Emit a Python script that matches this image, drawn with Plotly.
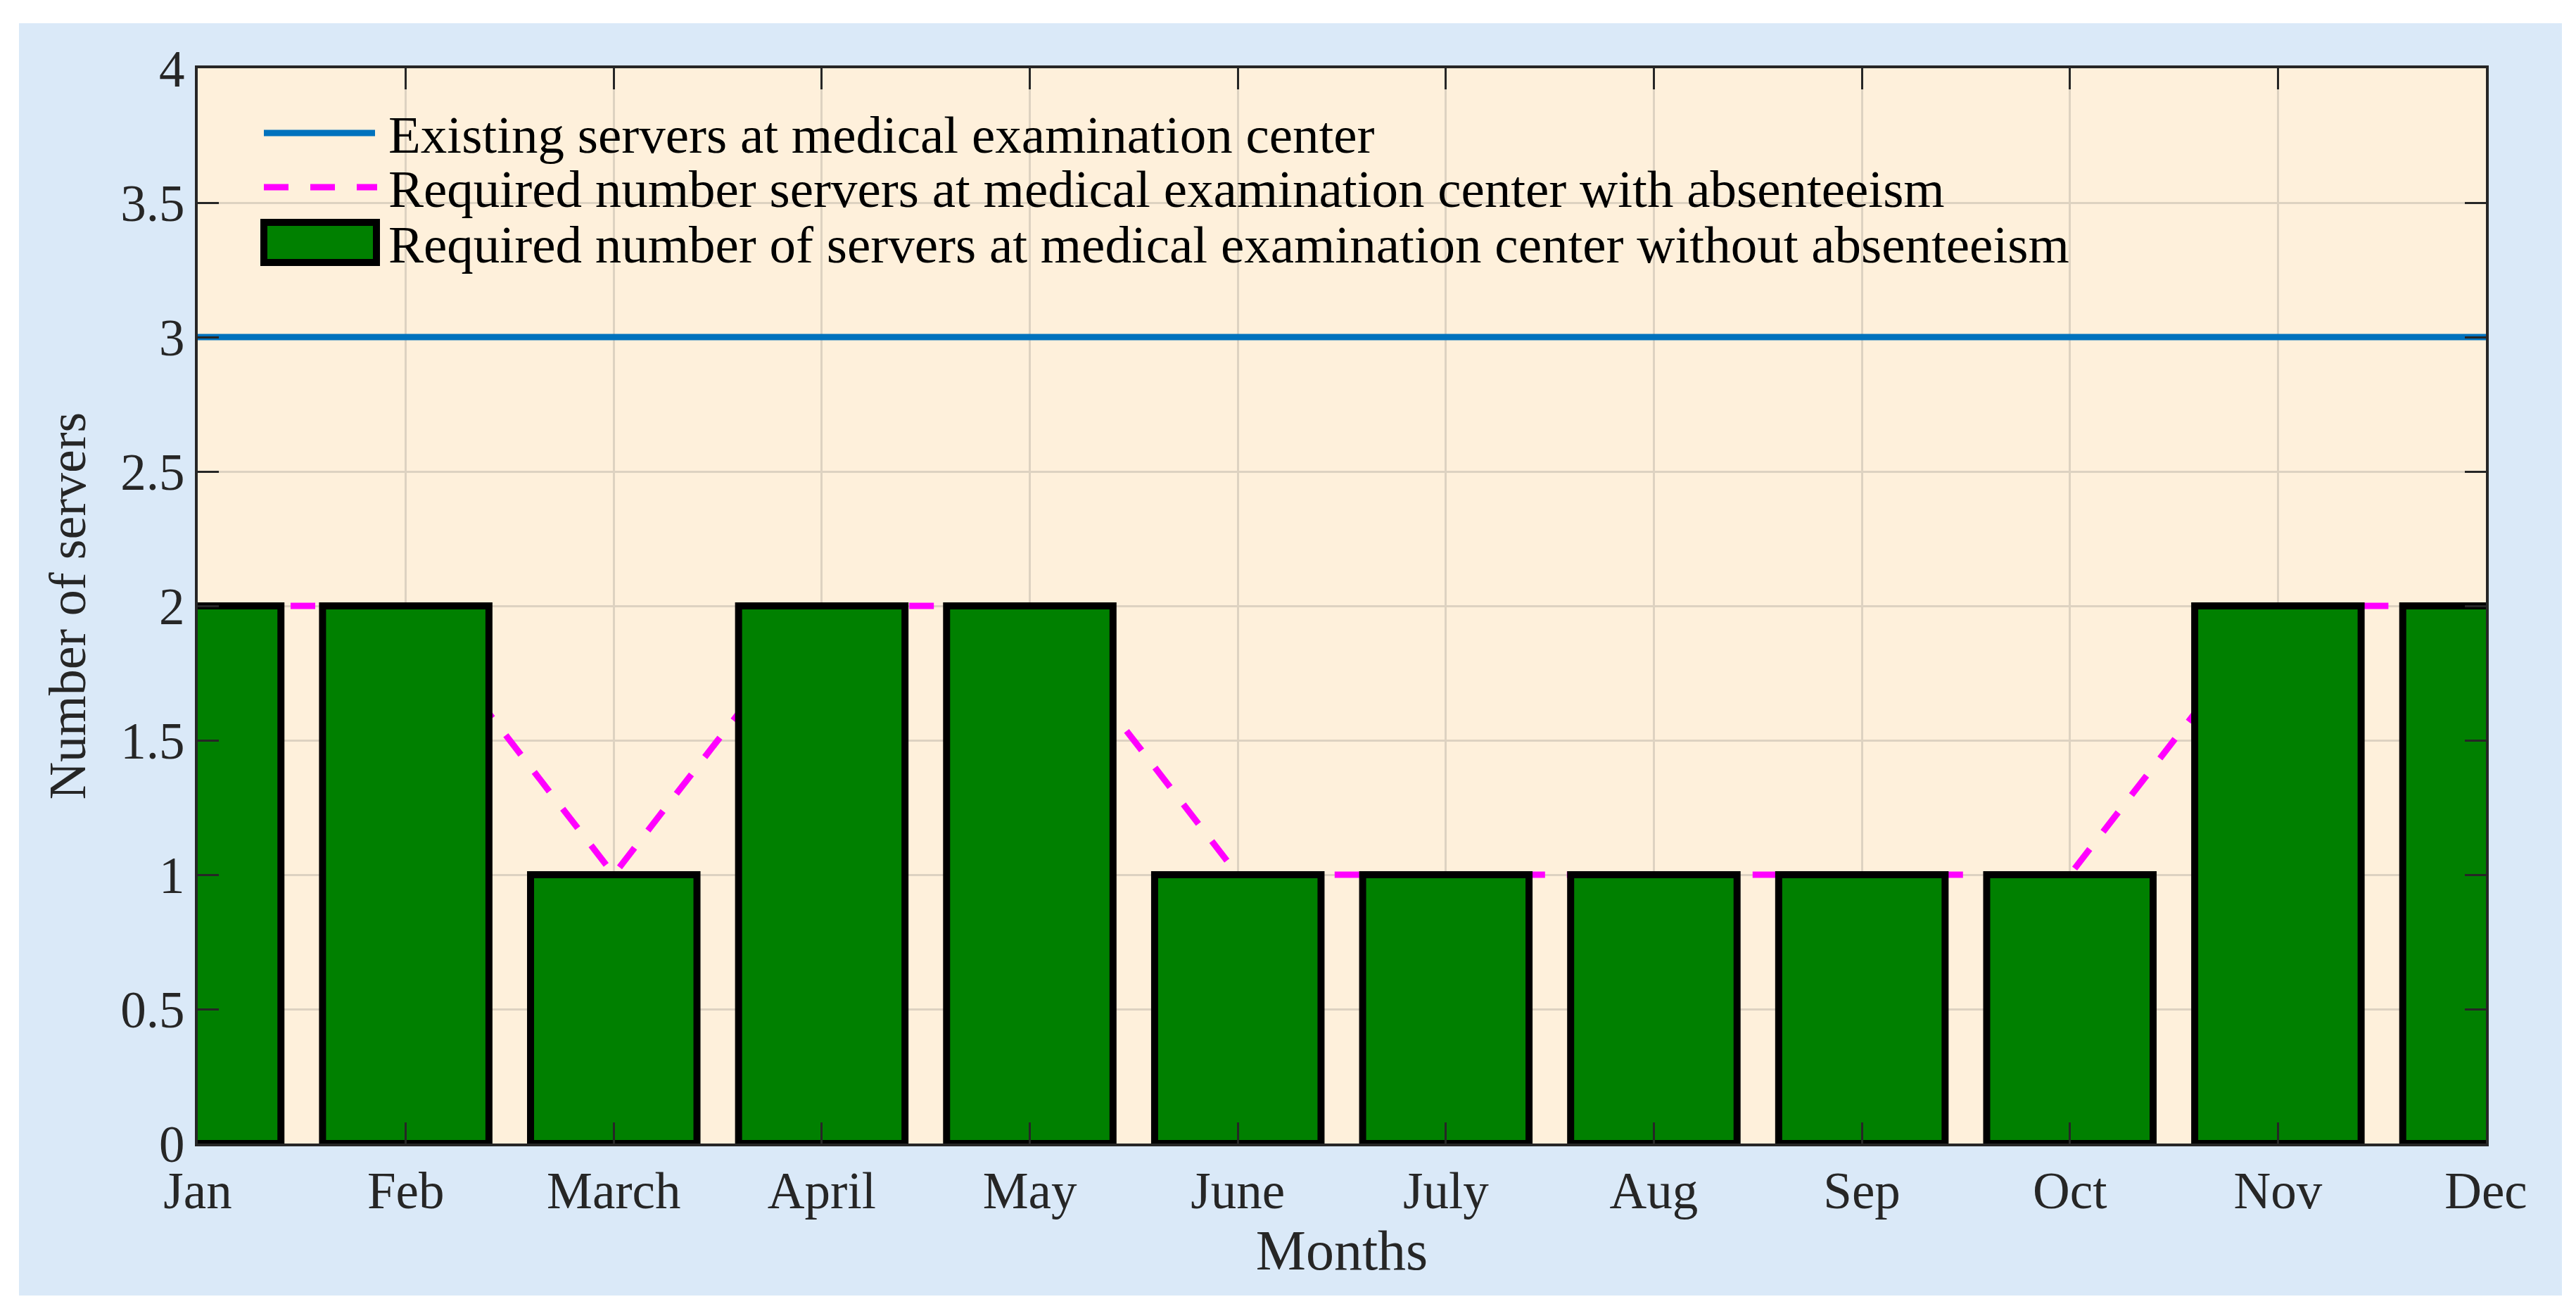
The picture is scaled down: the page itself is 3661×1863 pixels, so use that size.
import plotly.graph_objects as go

months = ["Jan", "Feb", "March", "April", "May", "June", "July", "Aug", "Sep", "Oct", "Nov", "Dec"]
month_pos = [1, 2, 3, 4, 5, 6, 7, 8, 9, 10, 11, 12]
existing_servers = [3, 3, 3, 3, 3, 3, 3, 3, 3, 3, 3, 3]
required_with_absenteeism = [2, 2, 1, 2, 2, 1, 1, 1, 1, 1, 2, 2]
required_without_absenteeism = [2, 2, 1, 2, 2, 1, 1, 1, 1, 1, 2, 2]
y_ticks = [0, 0.5, 1, 1.5, 2, 2.5, 3, 3.5, 4]
legend_labels = [
    "Existing servers at medical examination center",
    "Required number servers at medical examination center with absenteeism",
    "Required number of servers at medical examination center without absenteeism",
]

W, H = 3661, 1863
L, R, T, B = 273, 136, 89, 246
pw = W - L - R
ph = H - T - B


def px_x(p):
    return (p - L) / pw


def px_y(p):
    return (H - B - p) / ph


FONT = "Liberation Serif, Times New Roman, serif"
TXT = "#262626"
GRID = "rgb(221,210,193)"
CREAM = "rgb(254,240,219)"
PANEL = "rgb(218,233,248)"
BLUE = "#0072BD"
MAGENTA = "#FF00FF"
GREEN = "#008000"

fig = go.Figure()

fig.add_trace(go.Scatter(
    x=month_pos, y=existing_servers, mode="lines",
    name=legend_labels[0], showlegend=False,
    line=dict(color=BLUE, width=9),
    xaxis="x", yaxis="y",
))
fig.add_trace(go.Scatter(
    x=month_pos, y=required_with_absenteeism, mode="lines",
    name=legend_labels[1], showlegend=False,
    line=dict(color=MAGENTA, width=9, dash="35px,31px"),
    xaxis="x", yaxis="y",
))
fig.add_trace(go.Bar(
    x=month_pos, y=required_without_absenteeism, width=0.8,
    name=legend_labels[2], showlegend=False,
    marker=dict(color=GREEN, line=dict(color="black", width=10)),
    xaxis="x2", yaxis="y2",
))

# legend (drawn inside the axes, like the reference)
leg_rows_y = [181, 258, 337]
sym_x0, sym_x1 = 367, 525
text_x = 542
shapes = [
    dict(type="rect", xref="paper", yref="paper",
         x0=px_x(19), x1=px_x(3633), y0=px_y(1833), y1=px_y(25),
         fillcolor=PANEL, line=dict(width=0), layer="below"),
    dict(type="rect", xref="paper", yref="paper",
         x0=0, x1=1, y0=0, y1=1,
         fillcolor=CREAM, line=dict(width=0), layer="below"),
    dict(type="rect", xref="paper", yref="paper",
         x0=px_x(348), x1=px_x(2984), y0=px_y(383), y1=px_y(133),
         fillcolor=CREAM, line=dict(width=0), layer="between"),
    dict(type="line", xref="paper", yref="paper",
         x0=px_x(sym_x0), x1=px_x(sym_x1), y0=px_y(leg_rows_y[0]), y1=px_y(leg_rows_y[0]),
         line=dict(color=BLUE, width=9), layer="above"),
    dict(type="line", xref="paper", yref="paper",
         x0=px_x(sym_x0), x1=px_x(sym_x1 + 3), y0=px_y(leg_rows_y[1]), y1=px_y(leg_rows_y[1]),
         line=dict(color=MAGENTA, width=9, dash="35px,31px"), layer="above"),
    dict(type="rect", xref="paper", yref="paper",
         x0=px_x(367), x1=px_x(527), y0=px_y(365), y1=px_y(308),
         fillcolor=GREEN, line=dict(color="black", width=10), layer="above"),
]
annotations = []
for lbl, yy in zip(legend_labels, leg_rows_y):
    annotations.append(dict(
        text=lbl, xref="paper", yref="paper", x=px_x(text_x), y=px_y(yy + 2),
        xanchor="left", yanchor="middle", showarrow=False,
        font=dict(family=FONT, size=75, color="black"),
    ))

fig.update_layout(
    width=W, height=H,
    margin=dict(l=L, r=R, t=T, b=B),
    paper_bgcolor="white",
    plot_bgcolor="rgba(0,0,0,0)",
    font=dict(family=FONT, size=72, color=TXT),
    showlegend=False,
    xaxis=dict(
        range=[1, 12], tickmode="array", tickvals=month_pos, ticktext=months,
        showgrid=True, gridcolor=GRID, gridwidth=3,
        ticks="inside", ticklen=30, tickwidth=3, tickcolor=TXT,
        showline=True, linecolor=TXT, linewidth=4, mirror="ticks",
        zeroline=False,
        tickfont=dict(family=FONT, size=73, color=TXT),
        title=dict(text="Months", font=dict(family=FONT, size=80, color=TXT), standoff=8),
    ),
    yaxis=dict(
        range=[0, 4], tickmode="array", tickvals=y_ticks,
        showgrid=True, gridcolor=GRID, gridwidth=3,
        ticks="inside", ticklen=30, tickwidth=3, tickcolor=TXT,
        showline=True, linecolor=TXT, linewidth=4, mirror="ticks",
        zeroline=False,
        tickfont=dict(family=FONT, size=73, color=TXT),
        title=dict(text="Number of servers", font=dict(family=FONT, size=74, color=TXT), standoff=26),
    ),
    xaxis2=dict(range=[1, 12], overlaying="x", visible=False),
    yaxis2=dict(range=[0, 4], overlaying="y", visible=False),
    shapes=shapes,
    annotations=annotations,
)

fig.write_html("out.html")
